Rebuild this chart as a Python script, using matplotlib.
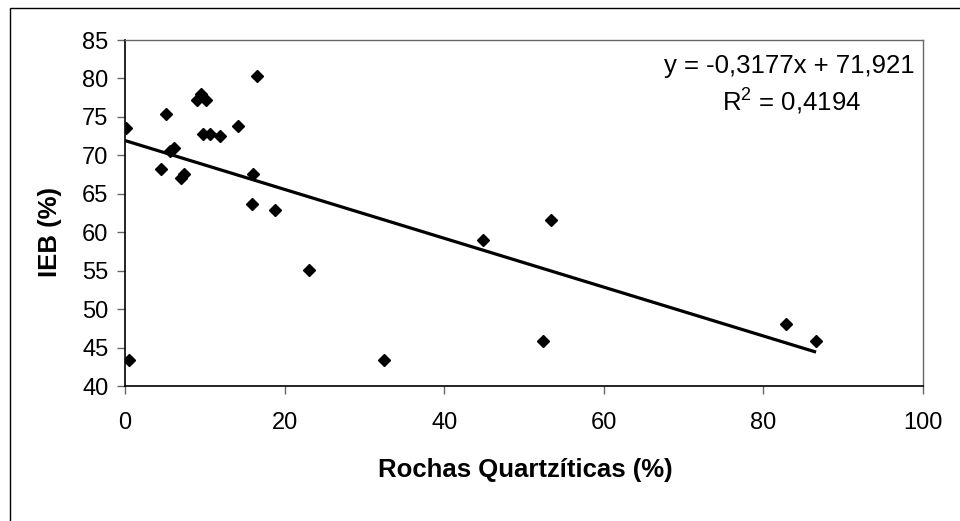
import matplotlib
matplotlib.use("Agg")
import matplotlib.pyplot as plt
from matplotlib.patches import Rectangle
import numpy as np

plt.rcParams['font.family'] = ['Liberation Sans', 'DejaVu Sans']
plt.rcParams['mathtext.fontset'] = 'custom'
plt.rcParams['mathtext.rm'] = 'Liberation Sans'

rochas_quartziticas = [0.1, 0.5, 4.5, 5.1, 5.7, 6.1, 7.0, 7.4, 9.0, 9.5, 10.2, 9.8, 10.6,
                       11.9, 14.1, 16.1, 16.6, 15.9, 18.8, 23.1, 32.4, 44.9, 53.4, 52.4,
                       82.8, 86.6]
ieb = [73.6, 43.4, 68.2, 75.4, 70.6, 71.0, 67.1, 67.6, 77.2, 78.0, 77.2, 72.8, 72.8,
       72.5, 73.8, 67.6, 80.3, 63.7, 62.9, 55.1, 43.4, 59.0, 61.6, 45.8,
       48.1, 45.8]
slope = -0.3177
intercept = 71.921
r2 = 0.4194
x_ticks = [0, 20, 40, 60, 80, 100]
y_ticks = [40, 45, 50, 55, 60, 65, 70, 75, 80, 85]

fig = plt.figure(figsize=(9.6, 5.21), dpi=100)
ax = fig.add_axes([125/960, 1-386/521, (923-125)/960, (386-40)/521])

x = np.array(rochas_quartziticas)
y = np.array(ieb)
ax.plot(x, y, linestyle='none', marker='D', markersize=6.4, color='black', zorder=3)
xl = np.array([0, x.max()])
ax.plot(xl, slope*xl + intercept, color='black', linewidth=2.3, solid_capstyle='butt', zorder=2)

ax.set_xlim(0, 100)
ax.set_ylim(40, 85)
ax.set_xticks(x_ticks)
ax.set_yticks(y_ticks)
ax.tick_params(axis='both', direction='out', length=6, width=1, color='#666666',
               labelsize=17, labelcolor='black')
ax.tick_params(axis='y', pad=6)
ax.tick_params(axis='x', pad=13)
for s in ['left', 'bottom']:
    ax.spines[s].set_color('black')
    ax.spines[s].set_linewidth(1.2)
for s in ['top', 'right']:
    ax.spines[s].set_color('#666666')
    ax.spines[s].set_linewidth(1)

fig.text(525/960, 1-470/521, 'Rochas Quartzíticas (%)', fontsize=18.5, fontweight='bold',
         ha='center', va='center')
fig.text(50/960, 1-232/521, 'IEB (%)', fontsize=18.5, fontweight='bold',
         ha='center', va='center', rotation=90)

eq = f"y = {slope:.4f}x + {intercept:.3f}".replace('.', ',')
r2txt = "R$^{\\mathrm{2}}$ = " + f"{r2:.4f}".replace('.', ',')
ax.text((789-125)/798, (386-73)/346, eq, transform=ax.transAxes, ha='center', va='baseline',
        fontsize=18.5)
ax.text((792-125)/798, (386-110)/346, r2txt, transform=ax.transAxes, ha='center', va='baseline',
        fontsize=18.5)

fig.patches.append(Rectangle((10/960, -0.01), 1.0, 1-8/521+0.01, transform=fig.transFigure,
                             fill=False, edgecolor='black', linewidth=1))

fig.savefig('out.png', dpi=100)
